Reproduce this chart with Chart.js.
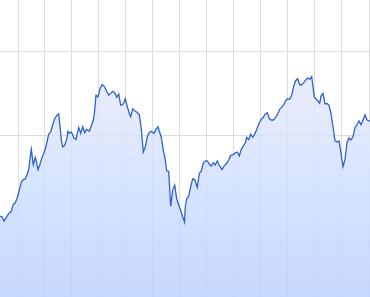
<!DOCTYPE html>
<html lang="en">
<head>
    <meta charset="UTF-8">
    <title>Price history</title>
    <style>
        body {
            margin: 0;
            padding: 0;
            background: #fff;
        }
        .chart-box {
            width: 370px;
            height: 297px;
            position: relative;
        }
    </style>
</head>
<body>

    <div class="chart-box">
        <canvas id="priceChart"></canvas>
    </div>

    <script src="https://cdn.jsdelivr.net/npm/chart.js"></script>

    <script>
        // Day index of each sample (x) and the value on that day
        const days = [
            0, 2, 4, 6.7, 9.3, 11.3, 13.3, 15.3, 17.3, 19.3, 21.3, 23.3, 25.3, 27.3, 28.7, 31.3, 33.3, 35.3, 36.7, 38,
            40, 42, 44, 46, 48.7, 50.7, 52.7, 54.7, 56.7, 58.7, 60, 61.3, 62.7, 64.7, 66.7, 68, 69.3, 71.3, 72.7, 74,
            76, 78.7, 80.7, 82.7, 84.7, 86.7, 89.3, 91.3, 93.3, 94.5, 96, 98, 100, 102, 104, 106, 108.7, 110.7, 112.7, 114.7,
            116.7, 118.7, 120.7, 123.3, 125.3, 127.3, 129.3, 130.7, 132.7, 134.7, 136.7, 139.3, 141.3, 143.3, 145.3, 147.3, 149.3, 151.3, 154, 156,
            158, 159.3, 161.3, 163.3, 165.3, 166.7, 168.7, 170.7, 172.7, 174.7, 176.7, 178.7, 180.7, 182.7, 184.5, 185.3, 186.7, 188.7, 190.7, 192.7,
            194.7, 197.3, 199.3, 201.3, 203.3, 205.3, 207.3, 209.3, 211.3, 213.3, 215.3, 217.3, 219.3, 222, 224, 226.7, 228.7, 230.7, 232.7, 234.7,
            237.3, 239.3, 241.3, 243.3, 245.3, 246.7, 248.7, 250.7, 252.7, 254.7, 256.7, 259.3, 261.3, 263.3, 265.3, 267.3, 269.3, 271.3, 273.3, 275,
            277.7, 279.7, 281.7, 283.7, 285.7, 287.7, 289.7, 291.7, 293.7, 295.7, 297.7, 299.7, 301.7, 303.7, 305.7, 307.7, 309.7, 311.7, 313, 314.3,
            316.3, 318.3, 319.7, 321, 323, 325, 327, 329, 331, 333, 335, 337, 339, 341, 343, 345, 347, 349, 351, 353,
            355, 357, 359, 361, 363, 365, 367, 370
        ];
        const values = [
            254, 253, 244, 253, 261, 264, 281, 284, 297, 316, 338, 345, 347, 361, 377, 444, 390, 415, 395, 375,
            392, 415, 431, 456, 504, 513, 545, 573, 589, 596, 539, 480, 453, 459, 482, 516, 507, 513, 501, 488,
            482, 533, 507, 536, 510, 524, 516, 539, 567, 606, 697, 688, 736, 761, 753, 728, 697, 708, 720, 712,
            685, 704, 641, 648, 677, 633, 599, 583, 623, 612, 606, 592, 527, 434, 453, 493, 510, 516, 507, 524,
            536, 516, 491, 441, 406, 371, 369, 276, 316, 329, 294, 279, 267, 253, 242, 275, 294, 300, 325, 347,
            345, 323, 363, 371, 395, 403, 403, 392, 386, 397, 390, 403, 388, 375, 386, 395, 406, 422, 424, 429,
            434, 420, 444, 456, 469, 491, 482, 504, 491, 504, 524, 554, 570, 580, 596, 602, 573, 567, 567, 576,
            596, 620, 630, 644, 666, 677, 674, 697, 753, 787, 800, 761, 761, 774, 792, 805, 796, 814, 748, 688,
            674, 662, 651, 692, 708, 648, 651, 641, 599, 536, 477, 472, 477, 429, 384, 408, 469, 488, 480, 493,
            533, 545, 563, 545, 567, 592, 567, 561
        ];

        // Where the grid lines sit (no labels are shown)
        const gridDays = [18, 44, 71, 98, 125, 152, 179, 206, 233, 260, 287, 314, 341, 369];
        const gridValues = [200, 500, 1000];

        function areaGradient(context) {
            const area = context.chart.chartArea;
            if (!area) return 'rgba(200,215,255,0.8)';
            const g = context.chart.ctx.createLinearGradient(0, area.top, 0, area.bottom);
            g.addColorStop(0, 'rgba(228,232,251,0.8)');
            g.addColorStop(0.35, 'rgba(224,230,251,0.8)');
            g.addColorStop(0.65, 'rgba(203,221,255,0.8)');
            g.addColorStop(1, 'rgba(184,206,254,0.8)');
            return g;
        }

        const ctx = document.getElementById('priceChart').getContext('2d');
        new Chart(ctx, {
            type: 'line',
            data: {
                datasets: [{
                    data: days.map((d, i) => ({ x: d, y: values[i] })),
                    borderColor: '#2f62c8',
                    borderWidth: 1.3,
                    pointRadius: 0,
                    tension: 0,
                    fill: 'start',
                    backgroundColor: areaGradient
                }]
            },
            options: {
                responsive: true,
                maintainAspectRatio: false,
                animation: false,
                layout: { padding: 0 },
                plugins: {
                    legend: { display: false },
                    tooltip: { enabled: false }
                },
                scales: {
                    x: {
                        type: 'linear',
                        min: 0,
                        max: 370,
                        afterBuildTicks: scale => { scale.ticks = gridDays.map(v => ({ value: v })); },
                        ticks: { display: false },
                        grid: { color: '#dcdcdc', drawTicks: false },
                        border: { display: false }
                    },
                    y: {
                        type: 'logarithmic',
                        min: 129.5,
                        max: 1543,
                        afterBuildTicks: scale => { scale.ticks = gridValues.map(v => ({ value: v })); },
                        ticks: { display: false },
                        grid: { color: '#dcdcdc', drawTicks: false },
                        border: { display: false }
                    }
                }
            }
        });
    </script>

</body>
</html>
